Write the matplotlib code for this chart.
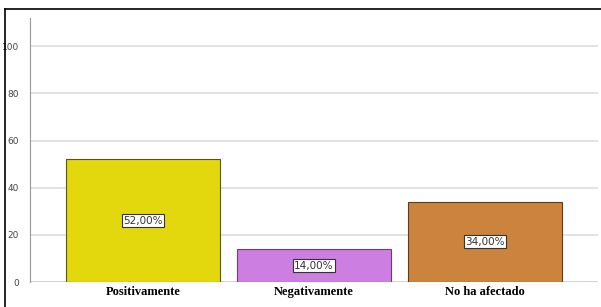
import matplotlib.pyplot as plt
from matplotlib.lines import Line2D

categories = ["Positivamente", "Negativamente", "No ha afectado"]
values = [52, 14, 34]
labels = ["52,00%", "14,00%", "34,00%"]
colors = ["#e3d80e", "#cc7fe0", "#cc833d"]
edge_colors = ["#5a5414", "#6a3f75", "#5e3c1c"]
yticks = [0, 20, 40, 60, 80, 100]

fig = plt.figure(figsize=(6.01, 3.07), dpi=100)
ax = fig.add_axes([30 / 601, 25 / 307, 568 / 601, 264 / 307])

x = range(len(categories))
bars = ax.bar(x, values, width=0.9, color=colors, edgecolor=edge_colors, linewidth=0.8, zorder=3)

# percentage labels in white boxes
for b, lab in zip(bars, labels):
    ax.text(b.get_x() + b.get_width() / 2, b.get_height() / 2, lab,
            ha="center", va="center", fontsize=7.5, color="#333333", zorder=4,
            bbox=dict(boxstyle="square,pad=0.15", fc="white", ec="#333333", lw=0.8))

ax.set_xlim(-0.66, 2.66)
ax.set_ylim(0, 112)
ax.set_yticks(yticks)
ax.set_yticklabels([str(t) for t in yticks], fontsize=6.5, color="#444444")
ax.set_xticks(list(x))
ax.set_xticklabels(categories, fontsize=9, fontweight="bold", family="Liberation Serif")
ax.tick_params(axis="both", length=0)
ax.tick_params(axis="y", pad=8)
ax.tick_params(axis="x", pad=3)

ax.yaxis.grid(True, color="#dddddd", linewidth=1.2, zorder=0)
for s in ["top", "right", "bottom"]:
    ax.spines[s].set_visible(False)
ax.spines["left"].set_color("#999999")
ax.axhline(0, color="#999999", linewidth=1, zorder=2)

# outer frame lines (top and left)
fig.add_artist(Line2D([5 / 601, 1], [1 - 9 / 307, 1 - 9 / 307], color="black", lw=1.2, transform=fig.transFigure))
fig.add_artist(Line2D([5 / 601, 5 / 601], [0, 1 - 9 / 307], color="black", lw=1.2, transform=fig.transFigure))

fig.savefig("out.png", dpi=100)
